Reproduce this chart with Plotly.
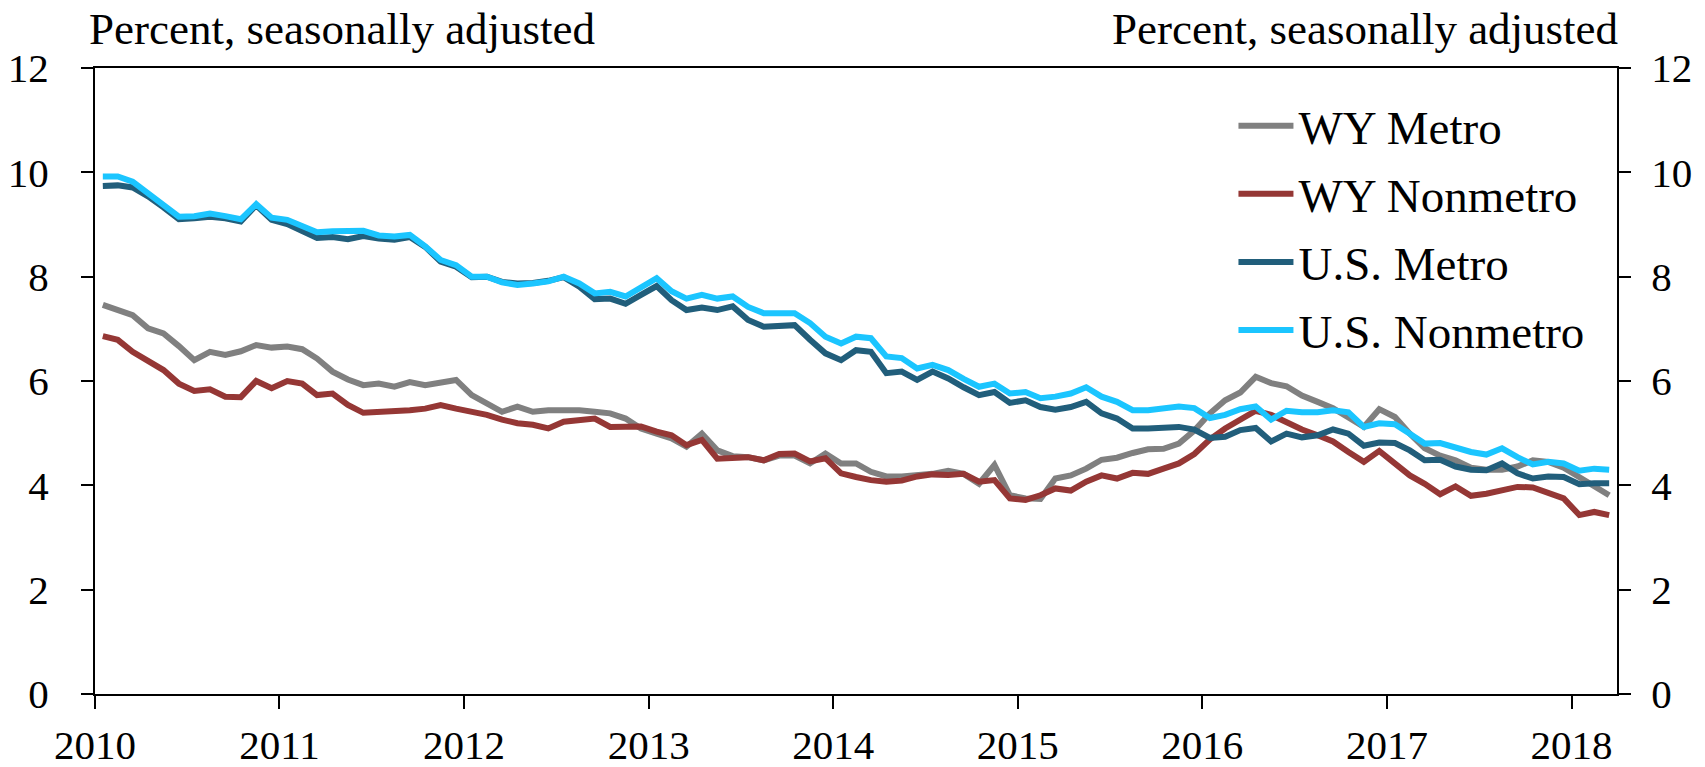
import pandas as pd
import plotly.graph_objects as go

# Monthly observations, Jan 2010 - Mar 2018 (percent, seasonally adjusted)
start_month = "2010-01-01"
end_month = "2018-03-01"

wy_metro = [
    7.46, 7.37, 7.26, 7.01, 6.91, 6.67, 6.40, 6.56, 6.50, 6.57, 6.69, 6.64,
    6.66, 6.61, 6.43, 6.18, 6.03, 5.92, 5.95, 5.89, 5.98, 5.92, 5.96, 6.02,
    5.73, 5.57, 5.41, 5.51, 5.41, 5.44, 5.45, 5.44, 5.41, 5.38, 5.28, 5.09,
    4.99, 4.90, 4.74, 4.99, 4.67, 4.56, 4.54, 4.48, 4.57, 4.57, 4.42, 4.61,
    4.42, 4.42, 4.26, 4.17, 4.17, 4.19, 4.22, 4.28, 4.22, 4.03, 4.39, 3.81,
    3.75, 3.74, 4.13, 4.19, 4.32, 4.49, 4.53, 4.62, 4.69, 4.70, 4.80, 5.05,
    5.38, 5.63, 5.78, 6.08, 5.96, 5.90, 5.72, 5.60, 5.48, 5.30, 5.12, 5.46,
    5.31, 4.99, 4.71, 4.57, 4.48, 4.34, 4.30, 4.30, 4.36, 4.48, 4.45, 4.34,
    4.16, 4.00, 3.81,
]
wy_nonmetro = [
    6.86, 6.79, 6.56, 6.37, 6.21, 5.95, 5.81, 5.84, 5.70, 5.69, 6.00, 5.86,
    6.00, 5.95, 5.73, 5.76, 5.54, 5.39, 5.40, 5.42, 5.44, 5.47, 5.54, 5.47,
    5.41, 5.35, 5.26, 5.19, 5.16, 5.09, 5.22, 5.26, 5.28, 5.12, 5.12, 5.13,
    5.03, 4.96, 4.77, 4.87, 4.51, 4.52, 4.54, 4.48, 4.60, 4.61, 4.46, 4.52,
    4.23, 4.16, 4.10, 4.07, 4.09, 4.17, 4.21, 4.20, 4.22, 4.07, 4.10, 3.75,
    3.72, 3.81, 3.94, 3.90, 4.07, 4.19, 4.13, 4.24, 4.22, 4.32, 4.42, 4.60,
    4.88, 5.09, 5.26, 5.43, 5.35, 5.21, 5.07, 4.96, 4.84, 4.64, 4.45, 4.66,
    4.42, 4.19, 4.03, 3.83, 3.98, 3.80, 3.84, 3.91, 3.97, 3.96, 3.87, 3.75,
    3.43, 3.49, 3.43,
]
us_metro = [
    9.74, 9.75, 9.71, 9.54, 9.33, 9.10, 9.12, 9.15, 9.12, 9.06, 9.37, 9.09,
    9.01, 8.88, 8.74, 8.76, 8.72, 8.78, 8.73, 8.71, 8.76, 8.57, 8.29, 8.19,
    7.99, 8.00, 7.90, 7.87, 7.88, 7.92, 7.99, 7.81, 7.57, 7.58, 7.48, 7.65,
    7.82, 7.55, 7.36, 7.41, 7.36, 7.43, 7.17, 7.04, 7.05, 7.07, 6.79, 6.53,
    6.40, 6.59, 6.56, 6.15, 6.18, 6.02, 6.18, 6.05, 5.88, 5.73, 5.79, 5.58,
    5.63, 5.50, 5.45, 5.50, 5.60, 5.38, 5.28, 5.09, 5.09, 5.11, 5.12, 5.07,
    4.91, 4.93, 5.06, 5.10, 4.84, 4.99, 4.92, 4.96, 5.07, 4.99, 4.76, 4.82,
    4.81, 4.67, 4.48, 4.49, 4.36, 4.30, 4.29, 4.42, 4.23, 4.13, 4.17, 4.16,
    4.02, 4.04, 4.04,
]
us_nonmetro = [
    9.92, 9.92, 9.82, 9.60, 9.38, 9.15, 9.16, 9.21, 9.16, 9.10, 9.39, 9.13,
    9.09, 8.96, 8.85, 8.87, 8.87, 8.88, 8.79, 8.77, 8.80, 8.58, 8.32, 8.22,
    8.00, 8.00, 7.89, 7.84, 7.87, 7.91, 8.00, 7.87, 7.68, 7.71, 7.62, 7.80,
    7.97, 7.72, 7.58, 7.65, 7.58, 7.62, 7.42, 7.30, 7.30, 7.30, 7.11, 6.85,
    6.72, 6.85, 6.82, 6.47, 6.44, 6.24, 6.31, 6.21, 6.04, 5.89, 5.95, 5.76,
    5.79, 5.67, 5.70, 5.76, 5.88, 5.70, 5.60, 5.44, 5.44, 5.48, 5.51, 5.48,
    5.29, 5.35, 5.46, 5.51, 5.26, 5.43, 5.40, 5.40, 5.44, 5.40, 5.12, 5.19,
    5.17, 4.99, 4.80, 4.81, 4.71, 4.64, 4.59, 4.71, 4.54, 4.40, 4.45, 4.42,
    4.28, 4.32, 4.30,
]

series_names = ["WY Metro", "WY Nonmetro", "U.S. Metro", "U.S. Nonmetro"]
series_colors = ["#808080", "#953735", "#215E7B", "#1BC5FF"]
year_ticks = list(range(2010, 2019))
y_ticks = [0, 2, 4, 6, 8, 10, 12]
axis_title = "Percent, seasonally adjusted"

# points sit in the middle of each month
months = pd.date_range(start_month, end_month, freq="MS")
x_mid = months + pd.to_timedelta(months.days_in_month / 2.0, unit="D")

FONT = "Liberation Serif"

fig = go.Figure()
for name, vals, col in zip(series_names, [wy_metro, wy_nonmetro, us_metro, us_nonmetro], series_colors):
    fig.add_trace(go.Scatter(
        x=x_mid, y=vals[:len(x_mid)], mode="lines", name=name,
        line=dict(color=col, width=6), legendgroup=name,
    ))

# invisible companion trace so the right-hand axis is drawn
fig.add_trace(go.Scatter(x=[x_mid[0]], y=[None], yaxis="y2", showlegend=False,
                         hoverinfo="skip", mode="lines"))

tickvals = [f"{y}-01-01" for y in year_ticks]
fig.update_layout(
    width=1705, height=767,
    margin=dict(l=95, r=88, t=68, b=73),
    paper_bgcolor="white", plot_bgcolor="white",
    font=dict(family=FONT, size=41, color="black"),
    showlegend=True,
    legend=dict(x=0.748, y=0.967, xanchor="left", yanchor="top",
                bgcolor="rgba(0,0,0,0)", font=dict(family=FONT, size=47),
                tracegroupgap=4, itemwidth=55),
    xaxis=dict(
        type="date", range=["2010-01-01", "2018-04-01"], automargin=False,
        tickmode="array", tickvals=tickvals, ticktext=[str(y) for y in year_ticks],
        showgrid=False, zeroline=False,
        showline=True, linecolor="black", linewidth=2, mirror=True,
        ticks="outside", ticklen=13, tickwidth=2, tickcolor="black",
        tickfont=dict(family=FONT, size=41), ticklabelstandoff=1,
    ),
    yaxis=dict(
        range=[0, 12], tickvals=y_ticks, showgrid=False, zeroline=False, automargin=False,
        showline=True, linecolor="black", linewidth=2,
        ticks="outside", ticklen=12, tickwidth=2, tickcolor="black",
        tickfont=dict(family=FONT, size=41), ticklabelstandoff=24,
    ),
    yaxis2=dict(
        range=[0, 12], tickvals=y_ticks, overlaying="y", side="right", automargin=False,
        showgrid=False, zeroline=False,
        showline=True, linecolor="black", linewidth=2,
        ticks="outside", ticklen=12, tickwidth=2, tickcolor="black",
        tickfont=dict(family=FONT, size=41), ticklabelstandoff=12,
    ),
    annotations=[
        dict(text=axis_title, xref="paper", yref="paper", x=-0.005, y=1.062,
             xanchor="left", yanchor="middle", showarrow=False,
             font=dict(family=FONT, size=45)),
        dict(text=axis_title, xref="paper", yref="paper", x=1.002, y=1.062,
             xanchor="right", yanchor="middle", showarrow=False,
             font=dict(family=FONT, size=45)),
    ],
)

fig.write_html("out.html", config={"displayModeBar": False},
               post_script="document.body.style.margin='0px';")
